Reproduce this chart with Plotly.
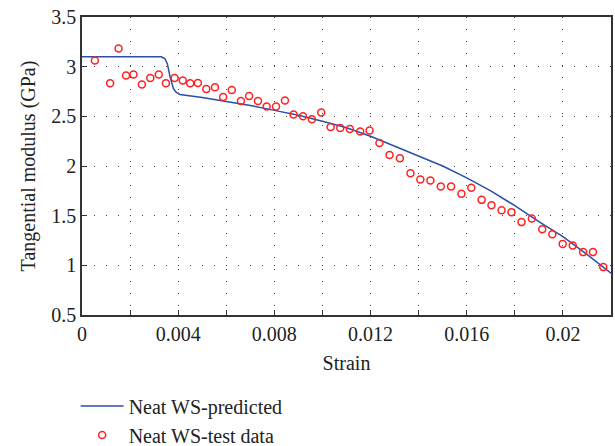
import plotly.graph_objects as go

# Predicted curve
pred_strain = [0, 0.0033, 0.00345, 0.00355, 0.00366, 0.0038, 0.0039, 0.00407, 0.005, 0.006,
               0.007, 0.008, 0.009, 0.010, 0.011, 0.012, 0.013, 0.014, 0.015, 0.016,
               0.017, 0.018, 0.019, 0.020, 0.021, 0.022]
pred_modulus = [3.10, 3.10, 3.08, 3.03, 2.90, 2.78, 2.745, 2.72, 2.69, 2.65,
                2.61, 2.56, 2.51, 2.45, 2.385, 2.30, 2.20, 2.10, 2.00, 1.88,
                1.75, 1.60, 1.44, 1.29, 1.11, 0.92]

# Test data
test_strain = [0.000535, 0.00117, 0.00152, 0.00183, 0.00214, 0.00249, 0.00284, 0.00319, 0.00349,
               0.00385, 0.00419, 0.00450, 0.00482, 0.00517, 0.00553, 0.00587, 0.00623, 0.00661,
               0.00695, 0.00732, 0.00768, 0.00807, 0.00844, 0.00880, 0.00919, 0.00956, 0.00995,
               0.01034, 0.01074, 0.01114, 0.01157, 0.01196, 0.01237, 0.01279, 0.01322, 0.01366,
               0.01407, 0.01449, 0.01492, 0.01535, 0.01578, 0.01619, 0.01662, 0.01703, 0.01745,
               0.01786, 0.01828, 0.01871, 0.01914, 0.01956, 0.01999, 0.02041, 0.02084, 0.02125,
               0.02168]
test_modulus = [3.061, 2.833, 3.182, 2.910, 2.920, 2.820, 2.887, 2.920, 2.833,
                2.887, 2.860, 2.833, 2.836, 2.776, 2.793, 2.695, 2.766, 2.655,
                2.705, 2.655, 2.598, 2.598, 2.659, 2.518, 2.501, 2.471, 2.538,
                2.393, 2.383, 2.373, 2.347, 2.357, 2.232, 2.110, 2.077, 1.928,
                1.863, 1.853, 1.794, 1.794, 1.720, 1.780, 1.659, 1.606, 1.555,
                1.535, 1.435, 1.472, 1.364, 1.314, 1.216, 1.200, 1.133, 1.133,
                0.982]

x_tickvals = [i * 0.002 for i in range(12)]
x_ticktext = ["0", "", "0.004", "", "0.008", "", "0.012", "", "0.016", "", "0.02", ""]
y_tickvals = [0.5, 1, 1.5, 2, 2.5, 3, 3.5]
y_ticktext = ["0.5", "1", "1.5", "2", "2.5", "3", "3.5"]

FONT = "Liberation Serif"
TXT = "#222222"

fig = go.Figure()
fig.add_trace(go.Scatter(x=pred_strain, y=pred_modulus, mode="lines",
                         name="Neat WS-predicted",
                         line=dict(color="#2a4fa8", width=1.5)))
fig.add_trace(go.Scatter(x=test_strain, y=test_modulus, mode="markers",
                         name="Neat WS-test data",
                         marker=dict(symbol="circle-open", size=7, color="#ff2020",
                                     line=dict(width=1.5, color="#ff2020"))))

axis_common = dict(showline=True, linecolor="#333333", linewidth=1.5, mirror=True,
                   ticks="inside", ticklen=5, tickcolor="#333333", tickwidth=1,
                   showgrid=True, gridcolor="#444444", gridwidth=1, griddash="1px,11px",
                   zeroline=False, automargin=False,
                   tickfont=dict(family=FONT, size=20, color=TXT))

fig.update_xaxes(range=[0, 0.022], tickvals=x_tickvals, ticktext=x_ticktext,
                 title=dict(text="Strain", font=dict(family=FONT, size=20, color=TXT),
                            standoff=12),
                 **axis_common)
fig.update_yaxes(range=[0.5, 3.5], tickvals=y_tickvals, ticktext=y_ticktext,
                 title=dict(text="Tangential modulus (GPa)",
                            font=dict(family=FONT, size=20, color=TXT), standoff=10),
                 **axis_common)

fig.update_layout(width=615, height=446,
                  margin=dict(l=82, r=4, t=17, b=131, autoexpand=False),
                  plot_bgcolor="white", paper_bgcolor="white",
                  showlegend=True,
                  legend=dict(x=-0.012, y=-0.24, xanchor="left", yanchor="top",
                              itemwidth=43,
                              font=dict(family=FONT, size=20, color=TXT),
                              bgcolor="rgba(0,0,0,0)", tracegroupgap=0))

fig.write_html("out.html")
